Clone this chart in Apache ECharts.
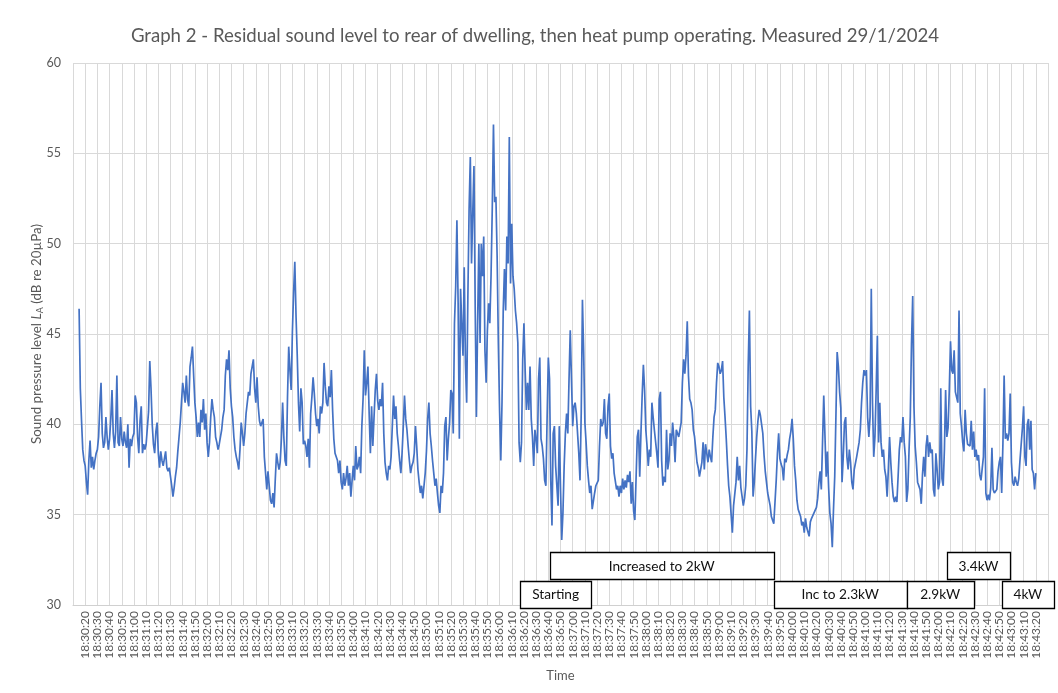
<!DOCTYPE html>
<html>
<head>
<meta charset="utf-8">
<title>Graph 2 - Residual sound level</title>
<script src="https://cdn.jsdelivr.net/npm/echarts@6/dist/echarts.min.js"></script>
<style>
html, body { margin: 0; padding: 0; background: #fff; }
#chart { width: 1058px; height: 693px; }
</style>
</head>
<body>
<div id="chart"></div>
<script>
// Time axis: one category per second
const startClock = '18:30:10';
const endClock = '18:43:30';

// A-weighted sound pressure level (dB re 20 µPa), one reading per second from 18:30:10
const levels = [
  null, null, null, null, null, 46.4, 42.0, 40.2, 38.6, 38.0,
  37.7, 36.8, 36.1, 38.0, 39.1, 37.6, 38.2, 37.5, 38.0, 38.4,
  38.6, 39.3, 41.0, 42.3, 39.5, 38.7, 39.0, 40.4, 39.3, 38.6,
  39.2, 40.3, 41.9, 39.5, 38.7, 39.6, 42.7, 39.0, 38.8, 40.4,
  39.2, 38.8, 39.6, 39.0, 38.7, 40.0, 37.6, 39.2, 38.8, 39.3,
  39.5, 41.6, 41.2, 39.3, 38.4, 40.2, 41.0, 38.4, 38.9, 38.6,
  38.9, 39.0, 40.7, 43.5, 42.0, 40.0, 38.9, 38.4, 39.6, 40.1,
  38.4, 37.6, 38.5, 38.0, 37.7, 38.1, 38.5, 37.6, 37.4, 37.6,
  37.5, 36.6, 36.0, 36.5, 37.1, 37.6, 38.5, 39.3, 40.1, 41.2,
  42.3, 41.8, 41.2, 42.7, 41.4, 41.0, 43.2, 43.7, 44.3, 42.7,
  41.2, 40.4, 39.3, 40.1, 39.3, 40.8, 40.1, 41.4, 39.7, 40.6,
  39.0, 38.2, 39.0, 40.4, 41.4, 40.8, 40.4, 39.3, 39.0, 38.6,
  38.9, 39.3, 39.7, 40.4, 40.8, 42.7, 43.6, 43.0, 44.1, 42.0,
  41.0, 40.4, 39.3, 38.6, 38.2, 37.9, 37.5, 38.6, 40.1, 39.5,
  38.8, 39.5, 40.6, 41.2, 41.8, 41.6, 42.8, 43.2, 43.6, 42.0,
  41.2, 42.6, 41.0, 40.2, 39.9, 40.1, 40.3, 38.2, 37.3, 36.4,
  37.4, 37.3, 35.8, 35.6, 36.2, 35.4, 37.0, 38.4, 37.9, 37.5,
  37.9, 39.2, 41.2, 39.3, 38.0, 37.7, 41.5, 44.3, 43.0, 41.9,
  45.1, 47.3, 49.0, 46.0, 43.8, 41.2, 39.6, 42.0, 41.2, 38.9,
  39.1, 38.8, 38.2, 39.2, 37.6, 40.6, 41.5, 42.6, 41.7, 40.6,
  39.9, 40.3, 39.5, 41.0, 40.6, 41.2, 43.4, 42.1, 41.2, 41.0,
  42.1, 41.5, 43.0, 40.8, 39.2, 38.4, 38.4, 38.0, 37.3, 38.0,
  36.8, 36.4, 37.3, 36.6, 37.0, 37.7, 36.6, 37.3, 36.0, 36.9,
  37.7, 36.9, 38.8, 37.5, 37.7, 38.2, 37.3, 39.9, 41.4, 44.1,
  41.6, 42.3, 43.2, 40.6, 38.4, 41.0, 38.8, 40.4, 41.9, 42.8,
  41.3, 40.8, 41.4, 41.0, 42.3, 39.5, 37.9, 37.3, 36.9, 37.7,
  37.5, 38.2, 39.9, 41.6, 40.3, 41.0, 39.5, 38.8, 38.0, 37.3,
  38.4, 39.9, 41.6, 40.3, 39.7, 38.8, 38.0, 37.3, 37.7, 37.9,
  38.4, 39.9, 38.8, 37.5, 36.8, 36.2, 36.6, 35.9, 36.6, 37.3,
  38.5, 40.3, 41.2, 39.5, 38.8, 38.0, 37.3, 36.6, 37.0, 36.2,
  35.5, 35.1, 36.6, 36.2, 37.3, 39.9, 40.4, 38.0, 39.2, 40.1,
  41.9, 41.7, 39.5, 45.6, 47.6, 51.3, 46.7, 39.2, 47.5, 45.5,
  43.8, 48.7, 43.4, 41.2, 47.1, 51.9, 54.8, 48.9, 51.7, 54.3,
  46.5, 40.4, 45.6, 50.0, 44.5, 50.0, 48.2, 50.4, 44.1, 42.3,
  45.2, 46.7, 45.6, 48.2, 51.9, 56.6, 52.3, 52.6, 49.3, 44.5,
  40.8, 38.0, 41.2, 46.3, 48.6, 46.3, 50.4, 48.9, 55.9, 47.8,
  51.1, 48.2, 47.5, 46.3, 45.6, 44.5, 39.0, 37.9, 39.0, 43.6,
  45.6, 43.0, 40.8, 42.3, 40.8, 43.2, 40.3, 39.3, 37.7, 39.7,
  39.2, 38.4, 42.5, 43.7, 39.2, 38.8, 38.1, 36.9, 36.6, 40.3,
  43.7, 42.5, 36.9, 34.4, 39.5, 39.9, 37.7, 36.6, 35.5, 39.9,
  36.5, 33.6, 35.1, 37.7, 39.5, 40.6, 39.5, 42.5, 45.2, 42.5,
  39.9, 41.0, 41.2, 40.6, 39.5, 38.4, 36.9, 40.6, 46.9, 44.0,
  40.1, 39.0, 37.7, 36.9, 36.2, 36.6, 35.3, 35.3, 36.2, 36.6,
  36.6, 36.9, 38.8, 40.3, 39.9, 40.1, 41.4, 39.5, 39.2, 41.0,
  41.7, 38.8, 38.1, 38.4, 37.3, 37.3, 36.4, 36.6, 36.0, 36.6,
  36.2, 37.0, 36.4, 36.9, 36.5, 37.2, 36.8, 37.4, 35.6, 36.8,
  35.2, 34.7, 37.0, 39.3, 39.7, 37.1, 39.5, 41.6, 43.3, 41.9,
  39.7, 38.8, 37.7, 38.6, 38.2, 41.2, 40.4, 39.7, 39.6, 38.4,
  37.6, 41.4, 41.8, 38.0, 36.6, 37.1, 36.8, 39.7, 37.5, 38.0,
  39.5, 38.8, 40.1, 39.3, 37.9, 39.7, 39.5, 39.3, 39.7, 40.1,
  42.3, 43.6, 42.8, 43.8, 45.7, 42.7, 41.4, 41.2, 40.8, 39.7,
  39.3, 38.6, 37.9, 37.6, 37.1, 37.5, 37.9, 39.0, 37.5, 38.9,
  38.4, 37.9, 38.6, 38.2, 37.9, 39.3, 40.4, 40.8, 42.3, 43.4,
  43.2, 42.8, 43.0, 43.5, 41.5, 40.4, 39.2, 37.8, 36.6, 36.0,
  35.0, 34.0, 35.5, 35.4, 36.8, 38.2, 36.9, 37.7, 36.5, 36.0,
  35.5, 35.9, 36.6, 38.6, 43.2, 46.3, 41.0, 39.6, 36.0, 36.8,
  38.1, 39.3, 40.2, 40.8, 40.5, 40.5, 39.5, 38.3, 37.4, 36.8,
  36.2, 36.2, 35.5, 34.9, 34.8, 34.5, 35.7, 36.9, 38.4, 39.5,
  38.1, 37.8, 37.6, 36.9, 38.1, 37.9, 38.3, 38.6, 39.2, 39.6,
  40.3, 39.2, 37.7, 36.9, 35.8, 35.3, 35.1, 34.9, 34.4, 34.6,
  34.0, 34.8, 34.3, 34.2, 33.8, 34.6, 34.8, 34.8, 35.1, 35.2,
  35.4, 35.9, 36.8, 37.4, 36.4, 39.0, 41.6, 41.6, 37.1, 38.5,
  36.5, 35.1, 34.5, 33.2, 35.3, 37.1, 40.5, 44.0, 43.2, 41.8,
  40.9, 36.8, 38.2, 40.1, 40.4, 38.2, 37.5, 38.6, 37.9, 36.8,
  36.4, 37.5, 37.5, 38.2, 38.6, 39.0, 39.7, 41.2, 42.3, 43.0,
  42.7, 43.0, 40.4, 39.3, 40.4, 47.5, 41.2, 38.2, 39.3, 41.9,
  44.9, 39.0, 41.2, 39.0, 38.2, 38.6, 37.5, 37.1, 36.0, 37.5,
  39.3, 37.9, 36.8, 36.0, 35.7, 36.0, 35.7, 37.1, 38.6, 39.3,
  39.0, 40.4, 39.0, 38.2, 35.7, 36.4, 38.6, 40.4, 44.5, 47.1,
  41.0, 38.8, 37.9, 36.8, 36.7, 36.4, 35.6, 37.2, 38.2, 37.1,
  38.8, 39.4, 38.2, 39.0, 38.4, 38.6, 36.4, 36.0, 38.4, 37.5,
  36.4, 36.8, 42.0, 37.0, 36.6, 38.6, 41.9, 39.3, 39.8, 41.9,
  44.6, 43.0, 42.8, 44.1, 41.8, 41.9, 41.2, 46.3, 40.6, 39.9,
  39.0, 38.5, 40.8, 39.5, 38.9, 39.0, 38.8, 40.2, 38.6, 39.6,
  38.2, 38.6, 38.0, 38.3, 37.2, 36.9, 36.8, 38.2, 42.0, 36.2,
  35.8, 36.1, 35.8, 36.5, 38.7, 36.4, 36.2, 36.2, 36.4, 37.4,
  37.9, 38.2, 36.2, 38.9, 42.7, 39.2, 39.5, 39.1, 39.5, 41.7,
  37.9, 36.8, 36.6, 37.1, 36.8, 36.6, 37.0, 38.0, 38.9, 39.8,
  41.0, 38.2, 37.7, 40.0, 40.3, 38.6, 40.2, 37.5, 37.3, 36.4,
  37.3, null, null, null, null, null, null, null, null, null,
  null
];

// Heat pump operating stages, shown as labelled spans under the trace
const stageLabels = ['Starting', 'Increased to 2kW', 'Inc to 2.3kW', '2.9kW', '3.4kW', '4kW'];
const stageFrom   = ['18:36:17', '18:36:41', '18:39:45', '18:41:34', '18:42:07', '18:42:52'];
const stageTo     = ['18:37:15', '18:39:45', '18:41:34', '18:42:29', '18:42:59', '18:43:35'];
const stageRow    = [0, 1, 0, 0, 1, 0];

const FONT = 'Lato, "Open Sans", sans-serif';
const GREY = '#595959';

function toSec(clock) {
  const p = clock.split(':').map(Number);
  return p[0] * 3600 + p[1] * 60 + p[2];
}
function toClock(sec) {
  const h = Math.floor(sec / 3600), m = Math.floor(sec / 60) % 60, s = sec % 60;
  const pad = n => String(n).padStart(2, '0');
  return h + ':' + pad(m) + ':' + pad(s);
}

const t0 = toSec(startClock), t1 = toSec(endClock);
const times = [];
for (let s = t0; s <= t1; s++) times.push(toClock(s));
const lastIdx = times.length - 1;

const chart = echarts.init(document.getElementById('chart'), null, { renderer: 'canvas' });

chart.setOption({
  animation: false,
  backgroundColor: '#ffffff',
  title: {
    text: 'Graph 2 - Residual sound level to rear of dwelling, then heat pump operating. Measured 29/1/2024',
    left: 530,
    textAlign: 'center',
    top: 21,
    textStyle: { fontFamily: FONT, fontSize: 18.6, fontWeight: 'normal', color: GREY }
  },
  grid: { left: 73, right: 10, top: 63, bottom: 88, containLabel: false },
  xAxis: {
    type: 'category',
    data: times,
    boundaryGap: false,
    name: 'Time',
    nameLocation: 'middle',
    nameGap: 64,
    nameMoveOverlap: false,
    nameTextStyle: { fontFamily: FONT, fontSize: 13, color: GREY },
    axisLine: { show: true, lineStyle: { color: '#d0d0d0', width: 1 } },
    axisTick: { show: false },
    axisLabel: {
      interval: (i) => i % 10 === 0 && i > 0 && i < lastIdx,
      rotate: 90,
      margin: 6,
      fontFamily: FONT,
      fontSize: 12,
      lineHeight: 12,
      hideOverlap: false,
      color: GREY
    },
    splitLine: {
      show: true,
      interval: (i) => i % 10 === 0,
      lineStyle: { color: '#d9d9d9', width: 1 }
    }
  },
  yAxis: {
    type: 'value',
    min: 30,
    max: 60,
    interval: 5,
    name: '{a|Sound pressure level }{i|L}{s|A}{a| (dB re 20µPa)}',
    nameLocation: 'middle',
    nameGap: 28,
    nameMoveOverlap: false,
    nameRotate: 90,
    nameTextStyle: {
      fontFamily: FONT, fontSize: 13.4, color: GREY,
      rich: {
        a: { fontFamily: FONT, fontSize: 13.4, color: GREY, lineHeight: 17 },
        i: { fontFamily: FONT, fontSize: 13.4, color: GREY, fontStyle: 'italic', lineHeight: 17 },
        s: { fontFamily: FONT, fontSize: 9, color: GREY, lineHeight: 17, verticalAlign: 'bottom' }
      }
    },
    axisLine: { show: false },
    axisTick: { show: false },
    axisLabel: { margin: 12, fontFamily: FONT, fontSize: 12.5, color: GREY },
    splitLine: { show: true, lineStyle: { color: '#d9d9d9', width: 1 } }
  },
  series: [{
    type: 'line',
    data: levels,
    showSymbol: false,
    symbol: 'none',
    sampling: 'none',
    connectNulls: false,
    lineStyle: { color: '#4472c4', width: 1.7 },
    z: 3
  }]
});

// Stage boxes, placed on the time scale of the x axis
const xa = chart.convertToPixel({ xAxisIndex: 0 }, times[0]);
const xb = chart.convertToPixel({ xAxisIndex: 0 }, times[lastIdx]);
const pxPerSec = (xb - xa) / (t1 - t0);
const yBase = chart.convertToPixel({ yAxisIndex: 0 }, 30);
const boxH = 27;
const rowTop = [yBase - 24.5, yBase - 53];

const graphics = [];
stageLabels.forEach((label, k) => {
  const x1 = xa + (toSec(stageFrom[k]) - t0) * pxPerSec;
  const x2 = xa + (toSec(stageTo[k]) - t0) * pxPerSec;
  const y = rowTop[stageRow[k]];
  graphics.push({
    type: 'rect',
    z: 10,
    shape: { x: Math.round(x1) + 0.5, y: Math.round(y) + 0.5, width: Math.round(x2 - x1), height: boxH },
    style: { fill: '#ffffff', stroke: '#000000', lineWidth: 1.3 }
  });
  graphics.push({
    type: 'text',
    z: 11,
    style: {
      text: label,
      x: (x1 + x2) / 2,
      y: y + boxH / 2 + 1,
      align: 'center',
      verticalAlign: 'middle',
      font: '13.7px ' + FONT,
      fill: '#111111'
    }
  });
});
chart.setOption({ graphic: graphics });
</script>
</body>
</html>
